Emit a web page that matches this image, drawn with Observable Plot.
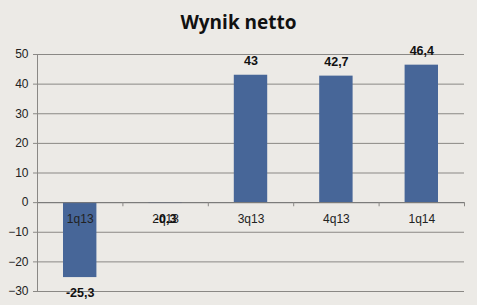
<!DOCTYPE html>
<html>
<head>
<meta charset="utf-8">
<script src="https://cdn.jsdelivr.net/npm/d3@7"></script>
<script src="https://cdn.jsdelivr.net/npm/@observablehq/plot@0.6"></script>
<style>
  html, body { margin: 0; padding: 0; background: #ECEAE6; }
  #wrap { width: 477px; height: 305px; background: #ECEAE6; overflow: hidden; }
  #title { height: 40px; line-height: 44px; text-align: center; font-family: "Open Sans", "Liberation Sans", sans-serif; font-weight: bold; font-size: 19px; color: #111; }
</style>
</head>
<body>
<div id="wrap">
  <div id="title">Wynik netto</div>
  <div id="chart"></div>
</div>
<script>
const categories = ["1q13", "2q13", "3q13", "4q13", "1q14"];
const values = [-25.3, -0.3, 43, 42.7, 46.4];
const valueLabels = ["-25,3", "-0,3", "43", "42,7", "46,4"];
const yTicks = [-30, -20, -10, 0, 10, 20, 30, 40, 50];

const data = categories.map((c, i) => ({c, i, v: values[i], label: valueLabels[i]}));
const boundaries = d3.range(categories.length + 1);
const font = "'Liberation Sans', Arial, sans-serif";
const grid = "#8a8885";

const chart = Plot.plot({
  width: 477,
  height: 265,
  marginLeft: 37,
  marginRight: 13,
  marginTop: 14,
  marginBottom: 14,
  style: {background: "transparent", fontFamily: font, overflow: "visible"},
  x: {type: "linear", domain: [0, categories.length], axis: null},
  y: {domain: [-30, 50], axis: null},
  marks: [
    Plot.ruleY(yTicks, {x1: 0, x2: categories.length, stroke: grid, strokeWidth: 1}),
    Plot.ruleX([0], {y1: -30, y2: 50, stroke: grid}),
    Plot.axisY({ticks: yTicks, label: null, tickSize: 4, tickPadding: 5, fontSize: 12, stroke: grid, color: "#222"}),
    Plot.rectY(data, {x1: d => d.i, x2: d => d.i + 1, y1: 0, y2: "v", fill: "#476698", insetLeft: 26, insetRight: 26}),
    Plot.ruleY([0], {x1: 0, x2: categories.length, stroke: "#777"}),
    Plot.ruleX(boundaries, {x: d => d, y1: 0, y2: -1.4, stroke: grid}),
    Plot.text(data, {x: d => d.i + 0.5, y: 0, text: "c", dy: 17, fontSize: 12, fill: "#222"}),
    Plot.text(data, {x: d => d.i + 0.5, y: "v", text: "label", fontSize: 12.5, fontWeight: "bold", fill: "#111",
      filter: d => d.v >= 0, dy: -14}),
    Plot.text(data, {x: d => d.i + 0.5, y: "v", text: "label", fontSize: 12.5, fontWeight: "bold", fill: "#111",
      filter: d => d.v < 0, dy: 15})
  ]
});
document.getElementById("chart").appendChild(chart);
</script>
</body>
</html>
